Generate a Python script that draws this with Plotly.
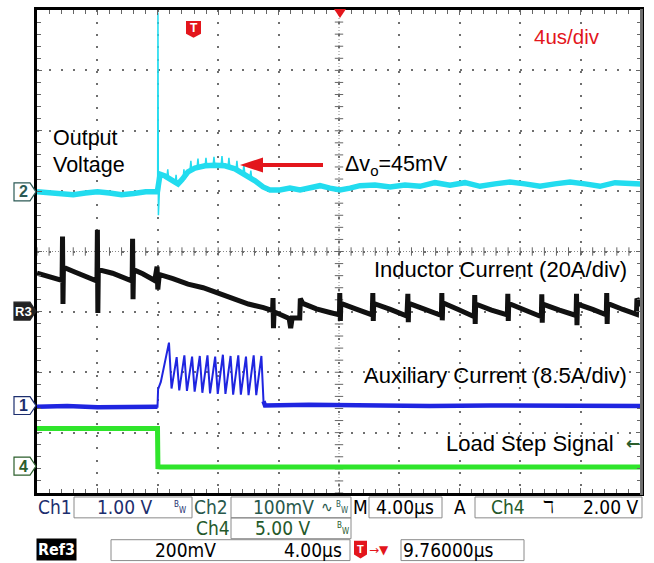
import numpy as np
import plotly.graph_objects as go

# ---------------- data (time in µs, amplitude in divisions) ----------------
# Ch2 – output voltage (cyan), band
cyan_t = [0, 0.8, 1.6, 2.4, 3.2, 4.0, 4.8, 5.6, 6.4, 7.2, 7.97,
          8.15, 8.48, 8.81, 9.14, 9.34, 9.60, 10.0, 10.46, 11.13, 11.79,
          12.45, 13.11, 13.77, 14.44, 14.97, 15.43, 16.09, 16.75, 17.42,
          18.08, 18.74, 19.40, 20.07, 20.73, 21.39, 22.38, 23.38, 24.37,
          25.36, 26.36, 27.35, 28.34, 29.34, 30.33, 31.32, 32.32, 33.31,
          34.30, 35.30, 36.29, 37.28, 38.28, 39.27, 40.0]
cyan_v = [4.99, 4.97, 4.94, 4.94, 4.97, 4.99, 4.97, 4.94, 4.96, 4.99, 4.99,
          5.28, 5.25, 5.20, 5.14, 5.12, 5.19, 5.32, 5.38, 5.42, 5.43,
          5.42, 5.37, 5.28, 5.17, 5.07, 5.02, 5.02, 5.05, 5.02,
          5.05, 5.09, 5.05, 5.02, 5.05, 5.09, 5.10, 5.07, 5.10,
          5.08, 5.14, 5.10, 5.14, 5.08, 5.12, 5.15, 5.12, 5.08,
          5.12, 5.15, 5.12, 5.08, 5.14, 5.12, 5.12]
# switching spikes riding on the output voltage
cyan_spk_t = [8.60, 8.66, 8.72, 9.15, 9.21, 9.27, 9.67, 9.73, 9.79,
              10.13, 10.19, 10.25, 10.60, 10.66, 10.72, 11.13, 11.19, 11.25,
              11.66, 11.72, 11.78, 12.19, 12.25, 12.31, 12.65, 12.71, 12.77,
              13.18, 13.24, 13.30, 13.64, 13.70, 13.76, 14.10, 14.16, 14.22]
cyan_spk_v = [5.22, 5.36, 5.20, 5.12, 5.27, 5.12, 5.19, 5.36, 5.20,
              5.34, 5.50, 5.34, 5.39, 5.54, 5.38, 5.41, 5.55, 5.41,
              5.42, 5.57, 5.42, 5.42, 5.58, 5.42, 5.40, 5.55, 5.39,
              5.36, 5.50, 5.35, 5.30, 5.44, 5.29, 5.22, 5.34, 5.21]
cyan_step_t = [7.99, 8.01, 8.04, 8.15]
cyan_step_v = [4.99, 7.96, 4.60, 5.28]

# Ch1 – auxiliary current (blue)
blue_t = [0, 2, 4, 6, 7.98, 8.02, 8.2, 8.74, 8.91, 9.25, 9.42, 9.76, 9.93,
          10.27, 10.44, 10.78, 10.95, 11.29, 11.46, 11.80, 11.97, 12.31,
          12.48, 12.82, 12.99, 13.33, 13.50, 13.84, 14.01, 14.35, 14.52,
          14.86, 15.0, 15.1, 18, 22, 26, 30, 34, 38, 40]
blue_v = [1.43, 1.44, 1.42, 1.43, 1.43, 1.72, 1.84, 2.49, 1.73, 2.25, 1.70,
          2.28, 1.69, 2.26, 1.68, 2.27, 1.66, 2.28, 1.65, 2.26, 1.64, 2.29,
          1.64, 2.27, 1.63, 2.28, 1.63, 2.26, 1.62, 2.28, 1.62, 2.27, 1.52,
          1.45, 1.46, 1.45, 1.44, 1.45, 1.45, 1.44, 1.44]

# Ch4 – load step signal (green)
green_t = [0, 4, 7.98, 8.01, 8.06, 8.15, 12, 20, 28, 36, 40]
green_v = [1.07, 1.07, 1.07, 0.40, 0.44, 0.43, 0.43, 0.43, 0.43, 0.43, 0.43]

# Ref3 – inductor current (black)
black_t = [0, 0.6, 1.2, 1.66, 1.69, 1.72, 1.75, 2.5, 3.3, 3.97, 4.00, 4.03,
           4.06, 5.0, 5.6, 6.30, 6.33, 6.36, 6.39, 7.0, 7.8, 7.95, 8.0, 8.1,
           8.3, 9.0, 10.0, 11.0, 12.0, 13.0, 14.0, 15.0, 15.6, 15.63, 15.66,
           15.7, 16.0, 16.7, 16.8, 16.9, 17.4, 17.44, 17.6, 18.5, 19.4,
           20.03, 20.05, 20.09, 20.12, 21.1, 22.2, 22.24, 22.27, 22.30, 23.4,
           24.5, 24.56, 24.59, 24.62, 25.7, 26.78, 26.81, 26.84, 26.87, 27.9,
           28.96, 28.99, 29.02, 29.05, 30.1, 31.15, 31.18, 31.21, 31.24, 32.3,
           33.4, 33.43, 33.46, 33.49, 34.6, 35.7, 35.73, 35.76, 35.79, 36.8,
           37.7, 37.73, 37.76, 37.79, 38.8, 39.7, 39.73, 40.0]
black_v = [3.64, 3.60, 3.56, 3.52, 4.25, 3.13, 3.74, 3.66, 3.58, 3.51, 4.36,
           2.98, 3.70, 3.64, 3.58, 3.51, 4.21, 3.21, 3.70, 3.63, 3.52, 3.75,
           3.37, 3.62, 3.60, 3.55, 3.46, 3.40, 3.31, 3.22, 3.13, 3.07, 3.02,
           3.23, 2.73, 3.00, 2.97, 2.89, 2.73, 2.90, 2.90, 3.22, 3.14, 3.05,
           2.99, 2.95, 3.31, 2.85, 3.14, 3.05, 2.95, 3.31, 2.85, 3.14, 3.04,
           2.93, 3.30, 2.83, 3.14, 3.04, 2.94, 3.31, 2.86, 3.15, 3.04, 2.92,
           3.28, 2.80, 3.13, 3.03, 2.95, 3.30, 2.85, 3.14, 3.03, 2.92, 3.29,
           2.82, 3.13, 3.03, 2.94, 3.30, 2.78, 3.13, 3.04, 2.95, 3.31, 2.80,
           3.14, 3.04, 2.96, 3.22, 3.10]

# ---------------- geometry helpers (plot area in pixels) ----------------
L, T, W, H = 37, 7, 604, 486
def X(px):
    return (px - L) / W
def Y(py):
    return (T + H - py) / H

LAB = "Liberation Sans, Arial, Helvetica, sans-serif"
SCOPE = "DejaVu Sans Condensed, DejaVu Sans, sans-serif"
RED = "#e3161c"
CYAN, BLUE, GREEN = "#22dcef", "#1f25e0", "#2fe52b"

fig = go.Figure()

# centre cross-hair tick marks
cx = np.arange(0, 40.001, 0.8)
cy = np.arange(0, 8.001, 0.2)
fig.add_trace(go.Scatter(x=cx, y=[4] * len(cx), mode="markers", hoverinfo="skip",
                         marker=dict(symbol="line-ns", size=6, line=dict(width=1, color="#666"))))
fig.add_trace(go.Scatter(x=[20] * len(cy), y=cy, mode="markers", hoverinfo="skip",
                         marker=dict(symbol="line-ew", size=6, line=dict(width=1, color="#666"))))

fig.add_trace(go.Scatter(x=black_t, y=black_v, mode="lines", hoverinfo="skip",
                         line=dict(color="#111111", width=5)))
fig.add_trace(go.Scatter(x=green_t, y=green_v, mode="lines", hoverinfo="skip",
                         line=dict(color=GREEN, width=5)))
# blue: thin line through the burst, thick noisy band on the flat parts
fig.add_trace(go.Scatter(x=blue_t, y=blue_v, mode="lines", hoverinfo="skip",
                         line=dict(color=BLUE, width=2)))
fig.add_trace(go.Scatter(x=blue_t[:5], y=blue_v[:5], mode="lines", hoverinfo="skip",
                         line=dict(color=BLUE, width=4.5)))
fig.add_trace(go.Scatter(x=blue_t[-9:], y=blue_v[-9:], mode="lines", hoverinfo="skip",
                         line=dict(color=BLUE, width=4.5)))
fig.add_trace(go.Scatter(x=cyan_step_t, y=cyan_step_v, mode="lines", hoverinfo="skip",
                         line=dict(color=CYAN, width=1.5)))
fig.add_trace(go.Scatter(x=cyan_spk_t, y=cyan_spk_v, mode="lines", hoverinfo="skip",
                         line=dict(color=CYAN, width=1.5)))
fig.add_trace(go.Scatter(x=cyan_t, y=cyan_v, mode="lines", hoverinfo="skip",
                         line=dict(color=CYAN, width=5.5)))

shapes = []
# centre dotted lines
shapes.append(dict(type="line", xref="x", yref="y", x0=0, x1=40, y0=4, y1=4,
                   line=dict(color="#888", width=1, dash="1px,2px"), layer="below"))
shapes.append(dict(type="line", xref="x", yref="y", x0=20, x1=20, y0=0, y1=8,
                   line=dict(color="#888", width=1, dash="1px,2px"), layer="below"))
# right border (grey)
shapes.append(dict(type="line", xref="paper", yref="paper", x0=X(641.5), x1=X(641.5),
                   y0=Y(6), y1=Y(495), line=dict(color="#6e6e6e", width=3), layer="above"))
# red arrow
shapes.append(dict(type="line", xref="paper", yref="paper", x0=X(260), x1=X(323),
                   y0=Y(163), y1=Y(163), line=dict(color=RED, width=4)))
shapes.append(dict(type="path", xref="paper", yref="paper",
                   path=f"M {X(240)},{Y(163)} L {X(263)},{Y(155.5)} L {X(263)},{Y(170.5)} Z",
                   fillcolor=RED, line=dict(width=0)))
# trigger position triangle on top border
shapes.append(dict(type="path", xref="paper", yref="paper",
                   path=f"M {X(334)},{Y(6)} L {X(346)},{Y(6)} L {X(340)},{Y(15)} Z",
                   fillcolor=RED, line=dict(width=0), layer="above"))
# T icon (top)
shapes.append(dict(type="path", xref="paper", yref="paper",
                   path=(f"M {X(186)},{Y(18)} L {X(201)},{Y(18)} L {X(201)},{Y(31)} "
                         f"L {X(193.5)},{Y(35)} L {X(186)},{Y(31)} Z"),
                   fillcolor=RED, line=dict(width=0)))

# left channel markers
def marker(y_c, fill, edge):
    return dict(type="path", xref="paper", yref="paper",
                path=(f"M {X(14)},{Y(y_c - 9)} L {X(30)},{Y(y_c - 9)} L {X(36)},{Y(y_c)} "
                      f"L {X(30)},{Y(y_c + 9)} L {X(14)},{Y(y_c + 9)} Z"),
                fillcolor=fill, line=dict(color=edge, width=1.2))
shapes.append(marker(190, "white", "#2c5a55"))
shapes.append(marker(310, "#222", "#222"))
shapes.append(marker(405, "white", "#1c2e6e"))
shapes.append(marker(466, "white", "#2b5e2b"))

# bottom readout boxes
def box(x0, x1, y0, y1):
    return dict(type="rect", xref="paper", yref="paper", x0=X(x0), x1=X(x1),
                y0=Y(y0), y1=Y(y1), line=dict(color="#8a8a8a", width=1))
for b in [(74, 192, 497, 518), (231, 351, 497, 518), (369, 442, 497, 518),
          (475, 642, 497, 518), (231, 351, 518, 539), (111, 350, 540, 561),
          (401, 524, 540, 561)]:
    shapes.append(box(*b))
# T icon (bottom)
shapes.append(dict(type="path", xref="paper", yref="paper",
                   path=(f"M {X(354)},{Y(541)} L {X(367)},{Y(541)} L {X(367)},{Y(555)} "
                         f"L {X(360.5)},{Y(559)} L {X(354)},{Y(555)} Z"),
                   fillcolor=RED, line=dict(width=0)))

ann = []
def txt(px, py, s, size, color="black", family=LAB, xa="left", **kw):
    d = dict(x=X(px), y=Y(py), xref="paper", yref="paper", text=s, showarrow=False,
             xanchor=xa, yanchor="middle", font=dict(size=size, color=color, family=family))
    d.update(kw)
    ann.append(d)

txt(51, 136, "Output", 21.5)
txt(51, 163, "Voltage", 21.5)
txt(343, 163, "Δv<sub>o</sub>=45mV", 21.5)
txt(532, 34, "4us/div", 20.5, RED)
txt(629, 268, "Inductor Current (20A/div)", 22, xa="right")
txt(629, 375, "Auxiliary Current (8.5A/div)", 22, xa="right")
txt(616, 443, "Load Step Signal", 22, xa="right")
txt(624, 443, "<b>←</b>", 17, "#2b5e2b", family="DejaVu Sans")
txt(193.5, 25, "<b>T</b>", 12, "white", xa="center")

# left marker labels
txt(23, 190, "<b>2</b>", 16, "#2c5a55", xa="center")
txt(23, 310, "<b>R3</b>", 13, "white", xa="center")
txt(23, 405, "<b>1</b>", 16, "#1c2e6e", xa="center")
txt(23, 466, "<b>4</b>", 16, "#2b5e2b", xa="center")

# bottom readout
NAVY, TEAL, DGRN = "#1c2e6e", "#28584c", "#24592a"
r1, r2, r3 = 507, 528, 550
txt(36, r1, "Ch1", 19, NAVY, SCOPE)
txt(95, r1, "1.00 V", 19, NAVY, SCOPE)
txt(172, r1 - 2, "B", 8, NAVY, SCOPE)
txt(177, r1 + 4, "W", 8, NAVY, SCOPE)
txt(192, r1, "Ch2", 19, TEAL, SCOPE)
txt(251, r1, "100mV", 19, TEAL, SCOPE)
txt(319, r1, "∿", 14, TEAL, "DejaVu Sans")
txt(334, r1 - 2, "B", 8, TEAL, SCOPE)
txt(339, r1 + 4, "W", 8, TEAL, SCOPE)
txt(351, r1, "M", 19, "black", SCOPE)
txt(374, r1, "4.00µs", 19, "black", SCOPE)
txt(452, r1, "A", 19, "black", SCOPE)
txt(489, r1, "Ch4", 19, DGRN, SCOPE)
txt(541, r1, "ℸ", 17, "black", "DejaVu Sans")
txt(640, r1, "2.00 V", 19, "black", SCOPE, xa="right")
txt(194, r2, "Ch4", 19, DGRN, SCOPE)
txt(253, r2, "5.00 V", 19, DGRN, SCOPE)
txt(335, r2 - 2, "B", 8, DGRN, SCOPE)
txt(340, r2 + 4, "W", 8, DGRN, SCOPE)
txt(56, r3, "<b>Ref3</b>", 16, "white", SCOPE, xa="center", bgcolor="black", borderpad=1)
txt(153, r3, "200mV", 19, "black", SCOPE)
txt(282, r3, "4.00µs", 19, "black", SCOPE)
txt(360.5, r3 - 1, "<b>T</b>", 11, "white", xa="center")
txt(367, r3, "→▼", 12, RED, "DejaVu Sans")
txt(401, r3, "9.76000µs", 19, "black", SCOPE)

axis_common = dict(showticklabels=False, zeroline=False, showline=True, linecolor="black",
                   linewidth=3, mirror="ticks", ticks="inside", ticklen=5, tickcolor="#666",
                   tickwidth=1, showgrid=True, gridcolor="#6f6f6f", gridwidth=1.5,
                   fixedrange=True)
fig.update_layout(
    width=654, height=563, margin=dict(l=L, r=654 - L - W, t=T, b=563 - T - H),
    paper_bgcolor="white", plot_bgcolor="white", showlegend=False,
    xaxis=dict(range=[0, 40], dtick=4, tick0=0, griddash="2px,10.15px",
               minor=dict(dtick=0.8, ticks="inside", ticklen=4, tickcolor="#666", showgrid=False),
               **axis_common),
    yaxis=dict(range=[0, 8], dtick=1, tick0=0, griddash="2px,10.08px",
               minor=dict(dtick=0.2, ticks="inside", ticklen=4, tickcolor="#666", showgrid=False),
               **axis_common),
    shapes=shapes, annotations=ann,
)
fig.write_html("out.html")
